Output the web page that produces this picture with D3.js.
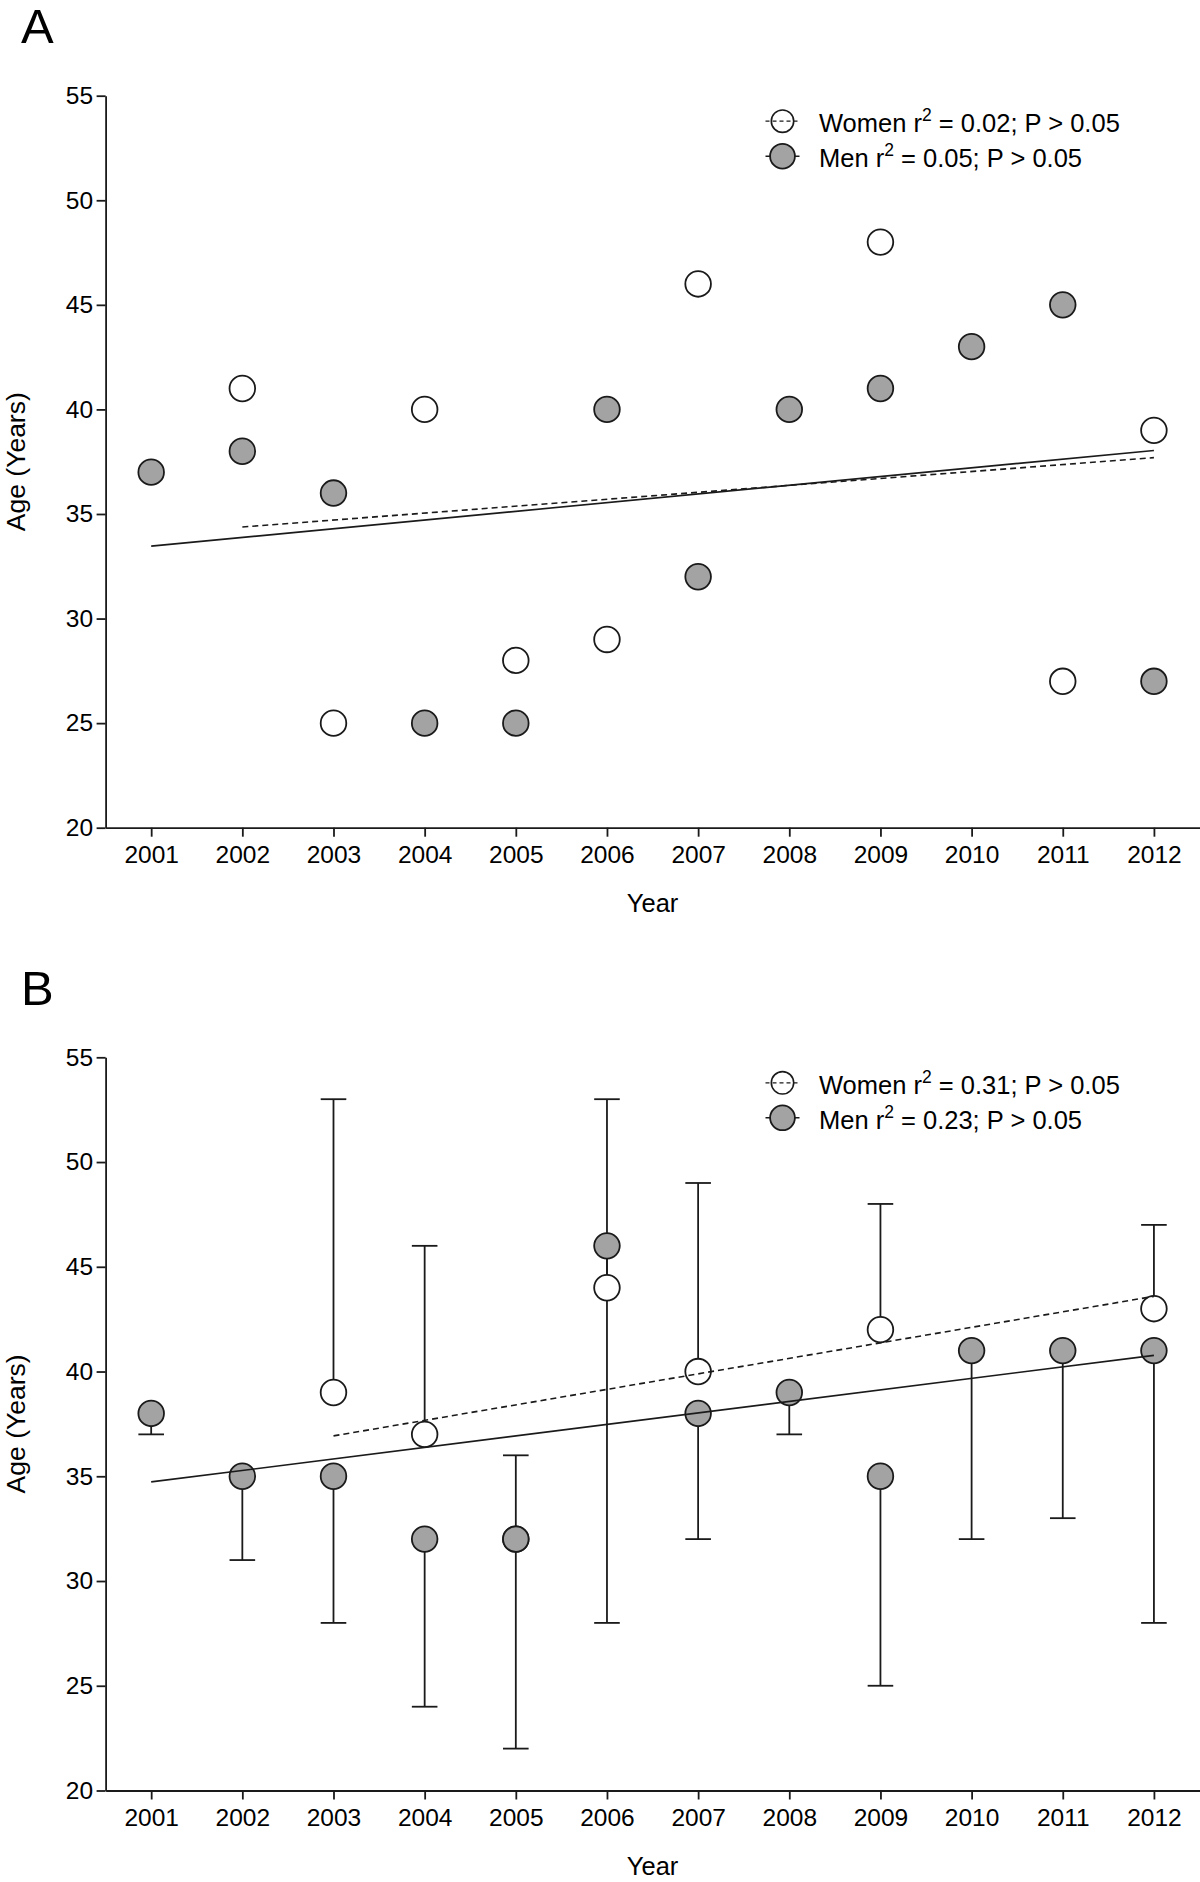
<!DOCTYPE html>
<html>
<head>
<meta charset="utf-8">
<script src="https://cdn.jsdelivr.net/npm/d3@7"></script>
<style>
  html, body { margin: 0; padding: 0; background: #fff; }
  svg { display: block; font-family: "Liberation Sans", Arial, Helvetica, sans-serif; }
</style>
</head>
<body>
<svg id="chart" width="1200" height="1882"></svg>
<script>
// ---------- data ----------
const years = [2001, 2002, 2003, 2004, 2005, 2006, 2007, 2008, 2009, 2010, 2011, 2012];
const yTicks = [20, 25, 30, 35, 40, 45, 50, 55];

// Panel A
const aWomen = [null, 41, 25, 40, 28, 29, 46, null, 48, null, 27, 39];
const aMen   = [37, 38, 36, 25, 25, 40, 32, 40, 41, 43, 45, 27];
const aLegend = ["Women r|2| = 0.02; P > 0.05", "Men r|2| = 0.05; P > 0.05"];

// Panel B
const bWomen      = [null, null, 39, 37, 32, 44, 40, null, 42, null, null, 43];
const bWomenUpper = [null, null, 53, 46, 36, 53, 49, null, 48, null, null, 47];
const bMen        = [38, 35, 35, 32, 32, 46, 38, 39, 35, 41, 41, 41];
const bMenLower   = [37, 31, 28, 24, 22, 28, 32, 37, 25, 32, 33, 28];
const bLegend = ["Women r|2| = 0.31; P > 0.05", "Men r|2| = 0.23; P > 0.05"];

const panelLetters = ["A", "B"];
const xTitle = "Year";
const yTitle = "Age (Years)";

// ---------- style ----------
const INK = "#1a1a1a";
const GREY = "#a3a3a3";
const R = 12.8;

const svg = d3.select("#chart");

function pairs(vals) {
  return years.map((yr, i) => ({ x: yr, y: vals[i], i })).filter(d => d.y != null);
}
function fit(pts) {
  const mx = d3.mean(pts, d => d.x), my = d3.mean(pts, d => d.y);
  const sxy = d3.sum(pts, d => (d.x - mx) * (d.y - my));
  const sxx = d3.sum(pts, d => (d.x - mx) * (d.x - mx));
  const b = sxy / sxx, a = my - b * mx;
  const x0 = d3.min(pts, d => d.x), x1 = d3.max(pts, d => d.x);
  return [{ x: x0, y: a + b * x0 }, { x: x1, y: a + b * x1 }];
}

function legendText(sel, str) {
  const parts = str.split("|");
  sel.append("tspan").text(parts[0]);
  sel.append("tspan").attr("font-size", 17.5).attr("dy", -11).text(parts[1]);
  sel.append("tspan").attr("dy", 11).text(parts[2]);
}

function panel(cfg) {
  const x = d3.scaleLinear().domain([2000.5, 2012.5]).range([105.6, 1199.5]);
  const y = d3.scaleLinear().domain([20, 55]).range([cfg.bottom, cfg.top]);
  const g = svg.append("g");

  // letter
  g.append("text").attr("x", 21).attr("y", cfg.letterY)
    .attr("font-size", 49).attr("fill", "#000").text(cfg.letter);

  // axes
  const xa = g.append("g").attr("transform", `translate(0,${cfg.bottom})`)
    .call(d3.axisBottom(x).tickValues(years).tickFormat(d3.format("d"))
      .tickSize(9).tickSizeOuter(0).tickPadding(9));
  const ya = g.append("g").attr("transform", `translate(105.6,0)`)
    .call(d3.axisLeft(y).tickValues(yTicks).tickSize(9).tickSizeOuter(0).tickPadding(3.5));
  [xa, ya].forEach(a => {
    a.selectAll("path, line").attr("stroke", INK).attr("stroke-width", 1.8);
    a.selectAll("text").attr("font-size", 24.5).attr("fill", "#000")
      .attr("font-family", "'Liberation Sans', Arial, sans-serif");
  });

  // titles
  g.append("text").attr("x", x(2006.5)).attr("y", cfg.bottom + 84.5)
    .attr("text-anchor", "middle").attr("font-size", 25.5).attr("fill", "#000").text(xTitle);
  g.append("text").attr("transform", `translate(25,${(cfg.top + cfg.bottom) / 2}) rotate(-90)`)
    .attr("text-anchor", "middle").attr("font-size", 26.5).attr("fill", "#000").text(yTitle);

  const women = pairs(cfg.women), men = pairs(cfg.men);

  // error bars
  const bars = [];
  if (cfg.womenUpper) women.forEach(d => bars.push({ x: d.x, y0: d.y, y1: cfg.womenUpper[d.i] }));
  if (cfg.menLower) men.forEach(d => bars.push({ x: d.x, y0: d.y, y1: cfg.menLower[d.i] }));
  const eb = g.append("g").attr("stroke", INK).attr("stroke-width", 1.8);
  eb.selectAll("line.v").data(bars).join("line").attr("class", "v")
    .attr("x1", d => x(d.x)).attr("x2", d => x(d.x))
    .attr("y1", d => y(d.y0)).attr("y2", d => y(d.y1));
  eb.selectAll("line.c").data(bars).join("line").attr("class", "c")
    .attr("x1", d => x(d.x) - 12.8).attr("x2", d => x(d.x) + 12.8)
    .attr("y1", d => y(d.y1)).attr("y2", d => y(d.y1));

  // points
  g.append("g").selectAll("circle").data(women).join("circle")
    .attr("cx", d => x(d.x)).attr("cy", d => y(d.y)).attr("r", R)
    .attr("fill", "#fff").attr("stroke", INK).attr("stroke-width", 1.8);
  g.append("g").selectAll("circle").data(men).join("circle")
    .attr("cx", d => x(d.x)).attr("cy", d => y(d.y)).attr("r", R)
    .attr("fill", GREY).attr("stroke", INK).attr("stroke-width", 1.8);

  // regression lines
  const line = d3.line().x(d => x(d.x)).y(d => y(d.y));
  g.append("path").datum(fit(women)).attr("d", line).attr("fill", "none")
    .attr("stroke", INK).attr("stroke-width", 1.6).attr("stroke-dasharray", "6,4");
  g.append("path").datum(fit(men)).attr("d", line).attr("fill", "none")
    .attr("stroke", INK).attr("stroke-width", 1.6);

  // legend
  const lx = 782.5, tx = 819;
  const b1 = cfg.top + 36.5, b2 = cfg.top + 71.5;
  const lg = g.append("g");
  lg.append("circle").attr("cx", lx).attr("cy", b1 - 11).attr("r", 11.2)
    .attr("fill", "#fff").attr("stroke", INK).attr("stroke-width", 1.6);
  lg.append("line").attr("x1", lx - 17).attr("x2", lx + 17).attr("y1", b1 - 11).attr("y2", b1 - 11)
    .attr("stroke", INK).attr("stroke-width", 1.3).attr("stroke-dasharray", "4,3");
  lg.append("line").attr("x1", lx - 17).attr("x2", lx + 17).attr("y1", b2 - 11).attr("y2", b2 - 11)
    .attr("stroke", INK).attr("stroke-width", 1.5);
  lg.append("circle").attr("cx", lx).attr("cy", b2 - 11).attr("r", 12.4)
    .attr("fill", GREY).attr("stroke", INK).attr("stroke-width", 1.8);
  lg.append("text").attr("x", tx).attr("y", b1).attr("font-size", 25.5).attr("fill", "#000")
    .call(legendText, cfg.legend[0]);
  lg.append("text").attr("x", tx).attr("y", b2).attr("font-size", 25.5).attr("fill", "#000")
    .call(legendText, cfg.legend[1]);
}

panel({ letter: panelLetters[0], letterY: 43, top: 95.7, bottom: 827.7,
        women: aWomen, men: aMen, legend: aLegend });
panel({ letter: panelLetters[1], letterY: 1005, top: 1057.3, bottom: 1790.5,
        women: bWomen, men: bMen, womenUpper: bWomenUpper, menLower: bMenLower, legend: bLegend });
</script>
</body>
</html>
